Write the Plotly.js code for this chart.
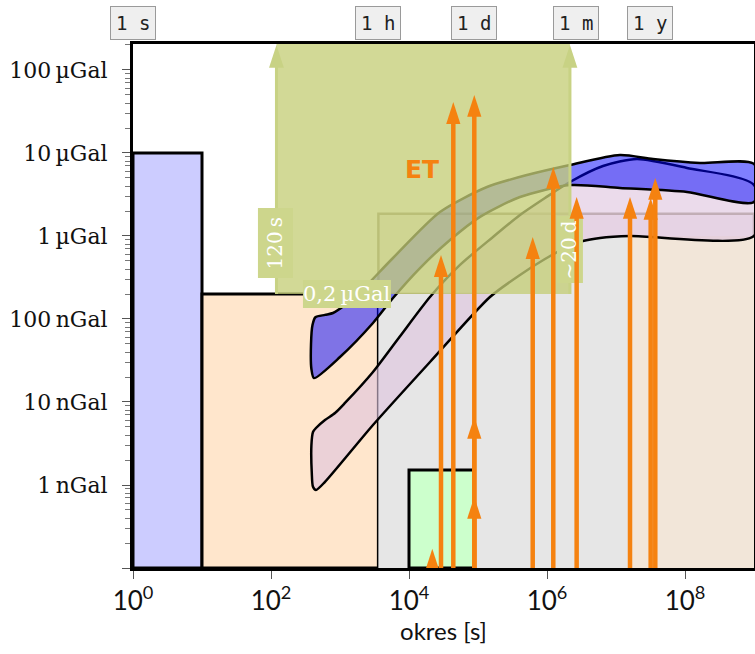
<!DOCTYPE html>
<html><head><meta charset="utf-8">
<script src="https://cdn.plot.ly/plotly-3.0.1.min.js"></script>
<style>html,body{margin:0;padding:0;background:#fff}#chart{width:755px;height:654px}</style>
</head><body><div id="chart"></div>
<script>
// ---------------- data (period in s, amplitude in nGal) ----------------
const xTickVals = [1, 100, 1e4, 1e6, 1e8];
const xTickText = ['10<sup>0</sup>', '10<sup>2</sup>', '10<sup>4</sup>', '10<sup>6</sup>', '10<sup>8</sup>'];
const yTickVals = [0.1, 1, 10, 100, 1000, 1e4, 1e5];
const yTickText = ['', '1\u2009nGal', '10\u2009nGal', '100\u2009nGal', '1\u2009µGal', '10\u2009µGal', '100\u2009µGal'];

const periodMarks = ['1 s', '1 h', '1 d', '1 m', '1 y'];
const periodMarkSeconds = [1, 3600, 86400, 2.63e6, 3.156e7];

// rectangles: [period from, period to, amplitude from, amplitude to]
const seismicBox = [1, 10, 0.1, 1e4];
const freeOscBox = [10, 3600, 0.1, 200];
const slowBox = [1e4, 86400, 0.1, 1.52];
const longBox = [1.6e7, 1e9, 0.1, 1000];
const refBox = [3600, 1e9, 200, 1850];
const sgBox = [120, 2.15e6, 200, 2.1e5];

// grey region boundary
const greyT = [3600, 3600, 1.4e5, 4.06e5, 9.35e5, 1.95e6, 3.32e6, 5.87e6, 1.6e7, 1.6e7];
const greyG = [0.1, 200, 200, 339, 528, 736, 870, 946, 1000, 0.1];

// blue band
const blueUpperT = [380, 400, 440, 606, 792, 1181, 1950, 5860, 28100, 1.35e5, 5.13e5, 2.15e6, 1.14e7, 3.44e7, 1.65e8, 1e9];
const blueUpperG = [50, 85, 105, 112, 118, 147, 211, 543, 1945, 3890, 5430, 7170, 9460, 8470, 7580, 7370];
const blueLowerT = [385, 420, 1000, 3006, 5860, 14430, 39270, 1.07e5, 4.06e5, 2.15e6, 1.14e7, 1.07e8, 1e9];
const blueLowerG = [25, 19.4, 34.8, 89.5, 179, 411, 895, 1700, 2950, 4110, 3790, 3390, 2570];

// pink band
const pinkUpperT = [385, 406, 449, 606, 847, 1181, 3006, 7410, 20140, 54830, 1.65e5, 4.06e5, 9.35e5, 2.15e6, 6.48e6, 2.01e7, 1.07e8, 1e9];
const pinkUpperG = [3.0, 4.35, 4.86, 6.07, 7.36, 9.73, 23, 62, 184, 448, 973, 1790, 2870, 4475, 6970, 8470, 6590, 4110];
const pinkLowerT = [390, 406, 449, 606, 3006, 20140, 1.49e5, 4.06e5, 9.35e5, 1.95e6, 3.32e6, 5.87e6, 1.6e7, 1e9];
const pinkLowerG = [1.4, 0.95, 0.87, 1.09, 5.28, 30.3, 184, 339, 528, 736, 870, 946, 1000, 1000];

// orange arrows (tidal / periodic signals)
const tidePeriods = [21770, 29100, 43860, 88350, 88350, 88350, 620800, 1.233e6, 2.69e6, 1.596e7, 3.18e7, 3.71e7];
const tideAmps = [0.17, 590, 41000, 50000, 6.6, 0.72, 970, 6800, 2950, 2950, 2870, 5000];

// olive box edge arrows
const sgEdgeT = [120, 2.15e6];
const sgEdgeBottom = [200, 200];
const sgEdgeTop = [2.0e5, 2.0e5];

// in-plot labels: text, centre period, centre amplitude
const boxLabels = ['120\u2009s', '0,2\u2009µGal', '∼20\u2009d'];
const boxLabelT = [116, 1262, 2.15e6];
const boxLabelG = [824, 200, 688];

// ---------------- helpers ----------------
const PX_X = 621 / 9;       // px per decade (x)
const PX_Y = 524 / 6.313;   // px per decade (y)
const boxHalf = [[17.5, 35], [44, 14], [13, 33.5]]; // half sizes in px (style)
const labelAngle = [-90, 0, -90];
const labelSize = [20, 21, 20];

function rectXY(r) {
  return {x: [r[0], r[1], r[1], r[0], r[0]], y: [r[2], r[2], r[3], r[3], r[2]]};
}
function rectTrace(r, fill, lineColor, lineWidth) {
  const p = rectXY(r);
  return {x: p.x, y: p.y, mode: 'lines', fill: 'toself', fillcolor: fill,
    line: {color: lineColor, width: lineWidth}, hoverinfo: 'skip', showlegend: false};
}
function bandTrace(ut, ug, lt, lg, fill) {
  const x = ut.concat(lt.slice().reverse(), [ut[0]]);
  const y = ug.concat(lg.slice().reverse(), [ug[0]]);
  return {x: x, y: y, mode: 'lines', fill: 'toself', fillcolor: fill,
    line: {color: '#000', width: 2.5, shape: 'spline', smoothing: 0.7}, hoverinfo: 'skip', showlegend: false};
}
const ORANGE = '#f58210';
const OLIVE_EDGE = 'rgb(200,210,132)';
const headOffset = Math.pow(10, -12 / PX_Y);

const traces = [];
traces.push(rectTrace(refBox, 'rgba(170,120,140,0.15)', 'rgba(120,110,80,0.75)', 2.5));
traces.push(rectTrace(seismicBox, '#ccccff', '#000', 3));
traces.push(rectTrace(freeOscBox, '#ffe6cc', '#000', 3));
traces.push({x: greyT, y: greyG, mode: 'lines', fill: 'toself', fillcolor: '#e6e6e6',
  line: {width: 0, color: 'rgba(0,0,0,0)'}, hoverinfo: 'skip', showlegend: false});
traces.push(rectTrace(longBox, '#f2e6d9', 'rgba(0,0,0,0)', 0));
traces.push(rectTrace(slowBox, '#ccffcc', '#000', 3));
traces.push(bandTrace(pinkUpperT, pinkUpperG, pinkLowerT, pinkLowerG, 'rgba(222,195,222,0.6)'));
traces.push(bandTrace(blueUpperT, blueUpperG, blueLowerT, blueLowerG, 'rgba(0,0,255,0.5)'));
// olive (superconducting gravimeter) box
traces.push(rectTrace(sgBox, 'rgba(196,206,118,0.77)', 'rgba(0,0,0,0)', 0));
{
  const ex = [], ey = [];
  sgEdgeT.forEach((t, i) => { ex.push(t, t, null); ey.push(sgEdgeBottom[i], sgEdgeTop[i] * headOffset, null); });
  traces.push({x: ex, y: ey, mode: 'lines', line: {color: OLIVE_EDGE, width: 3}, hoverinfo: 'skip', showlegend: false});
  traces.push({x: sgEdgeT, y: sgEdgeTop, mode: 'markers', marker: {symbol: 'arrow', size: 24, angle: 0, color: OLIVE_EDGE, line: {width: 0}}, hoverinfo: 'skip', showlegend: false});
}
// label backgrounds
boxLabels.forEach((_, i) => {
  const fx = Math.pow(10, boxHalf[i][0] / PX_X), fy = Math.pow(10, boxHalf[i][1] / PX_Y);
  traces.push(rectTrace([boxLabelT[i] / fx, boxLabelT[i] * fx, boxLabelG[i] / fy, boxLabelG[i] * fy],
    'rgb(205,214,140)', 'rgba(0,0,0,0)', 0));
});
// orange arrows
{
  const ax = [], ay = [];
  tidePeriods.forEach((t, i) => { ax.push(t, t, null); ay.push(0.1, tideAmps[i] * headOffset, null); });
  traces.push({x: ax, y: ay, mode: 'lines', line: {color: ORANGE, width: 4.5}, hoverinfo: 'skip', showlegend: false});
  traces.push({x: tidePeriods, y: tideAmps, mode: 'markers', marker: {symbol: 'arrow', size: 23, angle: 0, color: ORANGE, line: {width: 0}}, hoverinfo: 'skip', showlegend: false});
}

// ---------------- annotations ----------------
const L = Math.log10;
const annotations = [];
periodMarks.forEach((txt, i) => {
  annotations.push({x: L(periodMarkSeconds[i]), xref: 'x', y: 1.04, yref: 'paper', text: txt, showarrow: false,
    font: {family: 'DejaVu Sans Mono', size: 19, color: '#222'}, bgcolor: '#efefef', bordercolor: '#9a9a9a', borderwidth: 1, borderpad: 5,
    xanchor: 'center', yanchor: 'middle'});
});
annotations.push({x: L(15400), y: L(6240), xref: 'x', yref: 'y', text: '<b>ET</b>', showarrow: false,
  font: {family: 'DejaVu Sans', size: 25, color: ORANGE}});
boxLabels.forEach((txt, i) => {
  annotations.push({x: L(boxLabelT[i]), y: L(boxLabelG[i]), xref: 'x', yref: 'y', text: txt, showarrow: false,
    textangle: labelAngle[i], font: {family: 'DejaVu Serif', size: labelSize[i], color: '#fff'}});
});

const layout = {
  width: 755, height: 654,
  margin: {l: 133, r: 1, t: 44, b: 86},
  paper_bgcolor: '#fff', plot_bgcolor: '#fff',
  showlegend: false,
  xaxis: {type: 'log', range: [0, 9], tickvals: xTickVals, ticktext: xTickText,
    ticks: 'outside', ticklen: 8, tickcolor: '#555', showgrid: false, zeroline: false,
    showline: true, linecolor: '#000', linewidth: 3, mirror: true,
    tickfont: {family: 'Lato', size: 26, color: '#111'},
    title: {text: 'okres [s]', font: {family: 'Lato', size: 24, color: '#111'}, standoff: 6}},
  yaxis: {type: 'log', range: [-1, 5.313], tickvals: yTickVals, ticktext: yTickText,
    ticks: 'outside', ticklen: 8, tickcolor: '#555', showgrid: false, zeroline: false,
    showline: true, linecolor: '#000', linewidth: 3, mirror: true,
    minor: {ticks: 'outside', ticklen: 5, tickcolor: '#777', dtick: 'D1', showgrid: false},
    ticklabelstandoff: 10,
    tickfont: {family: 'DejaVu Serif', size: 22, color: '#111'}},
  annotations: annotations
};
Plotly.newPlot('chart', traces, layout, {displayModeBar: false, staticPlot: true});
</script></body></html>
